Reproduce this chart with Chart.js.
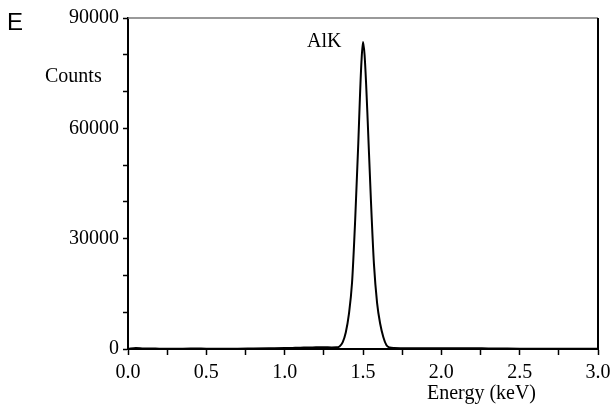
<!DOCTYPE html>
<html>
<head>
<meta charset="utf-8">
<script src="https://cdn.jsdelivr.net/npm/chart.js@4/dist/chart.umd.min.js"></script>
<style>
  html, body { margin: 0; padding: 0; background: #fff; }
  #c { display: block; }
</style>
</head>
<body>
<canvas id="c" width="611" height="407"></canvas>
<script>
// Energy (keV) and counts
const energies = [0.00, 0.05, 0.10, 0.20, 0.30, 0.40, 0.50, 0.60, 0.70, 0.80, 0.90, 1.00, 1.05, 1.10, 1.15, 1.20, 1.25, 1.30, 1.33, 1.35, 1.37, 1.39, 1.41, 1.43, 1.45, 1.47, 1.48, 1.49, 1.50, 1.51, 1.52, 1.53, 1.55, 1.57, 1.59, 1.61, 1.63, 1.65, 1.67, 1.70, 1.75, 1.80, 1.90, 2.00, 2.10, 2.20, 2.30, 2.40, 2.50, 2.60, 2.70, 2.80, 2.90, 3.00];
const counts   = [0, 300, 150, 100, 80, 120, 90, 60, 100, 150, 200, 250, 300, 350, 420, 450, 500, 420, 450, 700, 1800, 4500, 9500, 18000, 35000, 56000, 68000, 78000, 83500, 80000, 72000, 62000, 41000, 23000, 12500, 6800, 3200, 1000, 400, 250, 220, 200, 200, 180, 200, 220, 150, 120, 100, 100, 90, 80, 80, 70];

const yTickStep = 10000;
const yLabelEvery = 30000;
const xTickStep = 0.25;
const xLabelEvery = 0.5;

const texts = [
  { t: 'E', x: 7, y: 30, font: '24px "Liberation Sans"' },
  { t: 'Counts', x: 45, y: 82, font: '20px "Liberation Serif"' },
  { t: 'AlK', x: 307, y: 47, font: '20px "Liberation Serif"' },
  { t: 'Energy (keV)', x: 427, y: 399, font: '20px "Liberation Serif"' }
];

const annot = {
  id: 'annot',
  afterDraw(chart) {
    const ctx = chart.ctx, a = chart.chartArea;
    ctx.save();
    ctx.lineWidth = 1.5;
    ctx.strokeStyle = '#777';
    ctx.beginPath(); ctx.moveTo(a.left, a.top); ctx.lineTo(a.right, a.top); ctx.stroke();
    ctx.strokeStyle = '#000';
    ctx.lineWidth = 2;
    ctx.beginPath(); ctx.moveTo(a.right, a.top); ctx.lineTo(a.right, a.bottom); ctx.stroke();
    ctx.fillStyle = '#000';
    ctx.textBaseline = 'alphabetic';
    ctx.textAlign = 'left';
    texts.forEach(o => { ctx.font = o.font; ctx.fillText(o.t, o.x, o.y); });
    ctx.restore();
  }
};

new Chart(document.getElementById('c'), {
  type: 'line',
  data: {
    datasets: [{
      data: energies.map((e, i) => ({ x: e, y: counts[i] })),
      borderColor: '#000',
      borderWidth: 2,
      pointRadius: 0,
      fill: false,
      cubicInterpolationMode: 'monotone'
    }]
  },
  options: {
    responsive: false,
    animation: false,
    devicePixelRatio: 1,
    layout: { padding: { left: 0, top: 18, right: 0, bottom: 0 } },
    plugins: { legend: { display: false }, tooltip: { enabled: false } },
    scales: {
      x: {
        type: 'linear',
        min: 0, max: 3,
        afterFit(s) { s.height = 58; s.paddingRight = 13; },
        grid: { drawOnChartArea: false, drawTicks: true, tickLength: 6, tickColor: '#000', tickWidth: 1.5 },
        border: { color: '#000', width: 2 },
        ticks: {
          stepSize: xTickStep,
          autoSkip: false,
          maxRotation: 0,
          padding: 6,
          color: '#000',
          font: { family: '"Liberation Serif"', size: 20 },
          callback: v => (Math.abs(v / xLabelEvery - Math.round(v / xLabelEvery)) < 1e-6) ? v.toFixed(1) : ''
        }
      },
      y: {
        min: 0, max: 90000,
        afterFit(s) { s.width = 128; },
        grid: { drawOnChartArea: false, drawTicks: true, tickLength: 5, tickColor: '#000', tickWidth: 1.5 },
        border: { color: '#000', width: 2 },
        ticks: {
          stepSize: yTickStep,
          autoSkip: false,
          padding: 4,
          color: '#000',
          font: { family: '"Liberation Serif"', size: 20 },
          callback: v => (v % yLabelEvery === 0) ? String(v) : ''
        }
      }
    }
  },
  plugins: [annot]
});
</script>
</body>
</html>
